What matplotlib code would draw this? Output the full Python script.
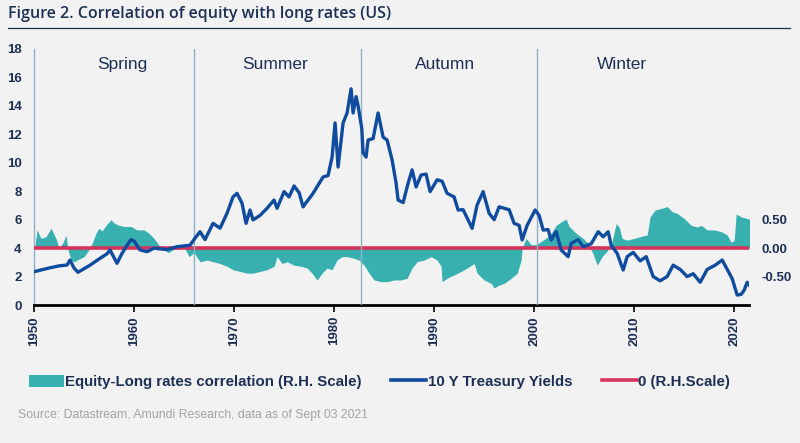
import matplotlib
matplotlib.use("Agg")
import matplotlib.pyplot as plt
from matplotlib.lines import Line2D
from matplotlib.patches import Patch
import numpy as np

# ---- data ----
yield_years = [1950.0, 1951.5, 1952.5, 1953.3, 1953.6, 1954.0, 1954.4, 1955.0, 1955.6, 1956.6,
               1957.3, 1957.6, 1957.8, 1958.3, 1958.8, 1959.3, 1959.7, 1960.0, 1960.6, 1961.3,
               1962.0, 1962.5, 1963.3, 1964.3, 1965.6, 1966.1, 1966.6, 1967.1, 1967.9, 1968.6,
               1969.3, 1969.9, 1970.3, 1970.8, 1971.2, 1971.6, 1971.9, 1972.6, 1973.3, 1974.0,
               1974.3, 1975.0, 1975.5, 1976.0, 1976.5, 1976.9, 1977.1, 1977.9, 1978.9, 1979.4,
               1979.8, 1980.1, 1980.4, 1980.9, 1981.3, 1981.7, 1981.9, 1982.2, 1982.4, 1982.77,
               1982.9, 1983.2, 1983.4, 1983.9, 1984.4, 1984.9, 1985.3, 1985.8, 1986.2, 1986.4,
               1986.9, 1987.4, 1987.8, 1988.2, 1988.7, 1989.2, 1989.6, 1990.3, 1990.8, 1991.3,
               1992.0, 1992.4, 1992.9, 1993.8, 1994.3, 1994.9, 1995.5, 1996.0, 1996.5, 1997.0,
               1997.5, 1998.0, 1998.5, 1998.8, 1999.3, 2000.1, 2000.5, 2000.9, 2001.4, 2001.7,
               2002.2, 2002.7, 2003.4, 2003.7, 2004.4, 2004.9, 2005.7, 2006.4, 2006.9, 2007.4,
               2007.7, 2008.3, 2008.9, 2009.3, 2009.9, 2010.6, 2011.2, 2011.9, 2012.6, 2013.3,
               2013.9, 2014.6, 2015.3, 2015.9, 2016.6, 2017.3, 2018.1, 2018.8, 2019.3, 2019.8,
               2020.3, 2020.7, 2021.0, 2021.3, 2021.6]
yield_values = [2.34, 2.6, 2.75, 2.81, 3.16, 2.6, 2.3, 2.55, 2.8, 3.28,
                3.6, 3.87, 3.6, 2.93, 3.63, 4.2, 4.6, 4.5, 3.87, 3.75,
                4.0, 3.95, 3.9, 4.1, 4.2, 4.7, 5.15, 4.6, 5.74, 5.4,
                6.45, 7.6, 7.85, 7.15, 5.74, 6.68, 5.98, 6.3, 6.8, 7.38,
                6.8, 7.97, 7.6, 8.37, 7.9, 6.9, 7.1, 7.85, 9.0, 9.1,
                10.4, 12.8, 9.7, 12.8, 13.5, 15.2, 13.5, 14.65, 14.0, 12.4,
                10.7, 10.4, 11.6, 11.7, 13.5, 11.8, 11.6, 10.2, 8.56, 7.38,
                7.2, 8.56, 9.5, 8.3, 9.14, 9.2, 7.97, 8.8, 8.7, 7.85,
                7.6, 6.68, 6.7, 5.39, 7.03, 7.97, 6.45, 6.0, 6.9, 6.8,
                6.7, 5.74, 5.6, 4.57, 5.6, 6.68, 6.3, 5.27, 5.3, 4.57,
                5.16, 3.87, 3.4, 4.33, 4.6, 4.1, 4.3, 5.15, 4.8, 5.15,
                4.2, 3.63, 2.46, 3.4, 3.7, 3.1, 3.4, 2.0, 1.7, 2.0,
                2.8, 2.5, 2.0, 2.2, 1.6, 2.5, 2.8, 3.16, 2.5, 1.85,
                0.7, 0.75, 1.05, 1.6, 1.3]

corr_years = [1950.0, 1950.3, 1950.7, 1951.2, 1951.7, 1952.2, 1952.5, 1952.9, 1953.2, 1953.4,
              1953.7, 1954.0, 1954.3, 1955.0, 1955.5, 1955.8, 1956.2, 1956.5, 1956.8, 1957.2,
              1957.7, 1958.0, 1958.5, 1959.0, 1959.7, 1960.3, 1961.0, 1961.5, 1962.0, 1962.5,
              1963.0, 1963.4, 1963.9, 1964.3, 1965.0, 1965.5, 1966.0, 1966.6, 1967.3, 1967.9,
              1968.6, 1969.3, 1969.9, 1970.6, 1971.3, 1971.9, 1972.6, 1973.3, 1974.0, 1974.3,
              1974.8, 1975.3, 1976.0, 1976.7, 1977.3, 1977.8, 1978.3, 1978.8, 1979.3, 1979.8,
              1980.3, 1980.8, 1981.3, 1982.0, 1982.5, 1983.0, 1983.5, 1984.0, 1984.7, 1985.3,
              1986.0, 1986.7, 1987.3, 1987.8, 1988.3, 1989.0, 1989.7, 1990.3, 1990.7, 1990.8,
              1991.3, 1992.0, 1992.7, 1993.3, 1994.0, 1994.3, 1995.0, 1995.7, 1996.0, 1996.5,
              1997.0, 1997.7, 1998.3, 1998.7, 1998.8, 1999.2, 1999.7, 2000.2, 2000.9, 2001.6,
              2002.2, 2002.7, 2003.2, 2003.5, 2004.2, 2004.9, 2005.4, 2005.6, 2005.9, 2006.3,
              2006.8, 2007.3, 2007.7, 2008.2, 2008.5, 2008.8, 2009.3, 2010.0, 2010.6, 2011.3,
              2011.6, 2012.1, 2012.8, 2013.3, 2013.8, 2014.3, 2015.0, 2015.7, 2016.3, 2016.7,
              2017.3, 2018.0, 2018.7, 2019.3, 2019.7, 2020.0, 2020.2, 2020.7, 2021.3, 2021.6]
corr_values = [-0.1, 0.32, 0.17, 0.2, 0.35, 0.17, 0.0, 0.1, 0.23, -0.03,
               -0.21, -0.24, -0.21, -0.15, -0.03, 0.08, 0.26, 0.35, 0.3, 0.4,
               0.5, 0.44, 0.4, 0.38, 0.38, 0.32, 0.32, 0.26, 0.17, 0.05,
               -0.03, -0.08, -0.03, 0.05, 0.02, -0.15, -0.08, -0.24, -0.21, -0.24,
               -0.27, -0.32, -0.38, -0.41, -0.44, -0.44, -0.41, -0.38, -0.32, -0.15,
               -0.27, -0.24, -0.3, -0.32, -0.35, -0.44, -0.56, -0.44, -0.35, -0.38,
               -0.21, -0.15, -0.15, -0.18, -0.21, -0.3, -0.44, -0.56, -0.59, -0.59,
               -0.56, -0.56, -0.53, -0.35, -0.24, -0.21, -0.15, -0.21, -0.32, -0.59,
               -0.53, -0.47, -0.41, -0.35, -0.27, -0.44, -0.56, -0.62, -0.7, -0.65,
               -0.62, -0.53, -0.44, -0.21, 0.0, 0.17, 0.06, 0.06, 0.14, 0.23,
               0.4, 0.46, 0.51, 0.38, 0.26, 0.17, 0.08, 0.0, -0.1, -0.3,
               -0.15, -0.05, 0.05, 0.43, 0.37, 0.17, 0.14, 0.17, 0.2, 0.23,
               0.55, 0.67, 0.7, 0.73, 0.64, 0.61, 0.52, 0.4, 0.37, 0.4,
               0.32, 0.32, 0.29, 0.23, 0.1, 0.14, 0.6, 0.55, 0.52, 0.5]

season_names = ["Spring", "Summer", "Autumn", "Winter"]
season_bounds = [1966.0, 1982.7, 2000.3]
season_label_x = [1958.8, 1974.1, 1991.1, 2008.8]
x_ticks = [1950, 1960, 1970, 1980, 1990, 2000, 2010, 2020]
left_ticks = [0, 2, 4, 6, 8, 10, 12, 14, 16, 18]
right_ticks = [-0.5, 0.0, 0.5]

# ---- style ----
BG = "#f2f2f2"
NAVY = "#1c2f55"
BLUE = "#0f4b9e"
TEAL = "#38b0b0"
RED = "#d6325a"
VLINE = "#8fb1c9"
SANS = ["Liberation Sans", "DejaVu Sans"]

fig = plt.figure(figsize=(8, 4.43), dpi=100, facecolor=BG)

ax2 = fig.add_axes([0.0425, 0.3115, 0.894, 0.578])
ax = ax2.twinx()
ax2.set_facecolor(BG)

# correlation (right scale)
ax2.fill_between(corr_years, 0, corr_values, color=TEAL, lw=0, interpolate=True, zorder=2)
ax2.axhline(0, color=RED, lw=2.6, zorder=3)
ax2.set_ylim(-1, 3.5)
ax2.set_xlim(1950, 2021.5)

# treasury yields (left scale)
ax.plot(yield_years, yield_values, color=BLUE, lw=2.4, zorder=4, solid_joinstyle="round")
ax.set_ylim(0, 18)
ax.set_zorder(ax2.get_zorder() + 1)
ax.patch.set_visible(False)

for b in season_bounds:
    ax.axvline(b, color=VLINE, lw=1.0, zorder=1)
for name, xc in zip(season_names, season_label_x):
    ax.text(xc, 16.9, name, ha="center", va="center", fontsize=12.5,
            color=NAVY, family=SANS)

ax.yaxis.set_label_position("left")
ax.yaxis.tick_left()
ax2.yaxis.tick_right()
ax.set_yticks(left_ticks)
ax2.set_yticks(right_ticks)
ax2.set_yticklabels([f"{v:.2f}" for v in right_ticks])
ax.tick_params(axis="y", length=0, pad=9, labelsize=9.5, labelcolor=NAVY)
ax2.tick_params(axis="y", length=0, pad=9, labelsize=9.5, labelcolor=NAVY)
ax2.set_xticks(x_ticks)
ax2.set_xticklabels([str(t) for t in x_ticks], rotation=90)
ax2.tick_params(axis="x", length=5, width=1.2, pad=3, labelsize=9.5, labelcolor=NAVY, color="black")
for a in (ax, ax2):
    for lab in a.get_yticklabels() + a.get_xticklabels():
        lab.set_fontweight("bold")
        lab.set_family(SANS)
    for s in ("top", "right"):
        a.spines[s].set_visible(False)
ax.spines["bottom"].set_visible(False)
ax.spines["left"].set_visible(False)
ax2.spines["left"].set_color(VLINE)
ax2.spines["left"].set_linewidth(1.0)
ax2.spines["bottom"].set_color("black")
ax2.spines["bottom"].set_linewidth(2.0)

# title and rule
fig.text(0.01, 0.968, "Figure 2. Correlation of equity with long rates (US)", ha="left", va="center",
         fontsize=11.5, color=NAVY, family=["Open Sans", "DejaVu Sans"], fontweight="semibold")
fig.add_artist(Line2D([0.01, 0.988], [0.937, 0.937], color=NAVY, lw=0.9))

# legend
handles = [Patch(facecolor=TEAL, edgecolor="none"),
           Line2D([], [], color=BLUE, lw=2.6),
           Line2D([], [], color=RED, lw=2.6)]
labels = ["Equity-Long rates correlation (R.H. Scale)", "10 Y Treasury Yields", "0 (R.H.Scale)"]
leg = fig.legend(handles, labels, loc="center left", bbox_to_anchor=(0.019, 0.138), ncol=3,
                 frameon=False, handlelength=2.35, handleheight=0.85, handletextpad=0.1,
                 columnspacing=1.95, prop={"family": SANS, "weight": "bold", "size": 10.8})
for t in leg.get_texts():
    t.set_color(NAVY)

fig.text(0.022, 0.063, "Source: Datastream, Amundi Research, data as of Sept 03 2021", ha="left",
         va="center", fontsize=8.8, color="#a3a3a3", family=SANS)

fig.savefig("out.png", dpi=100, facecolor=BG)
